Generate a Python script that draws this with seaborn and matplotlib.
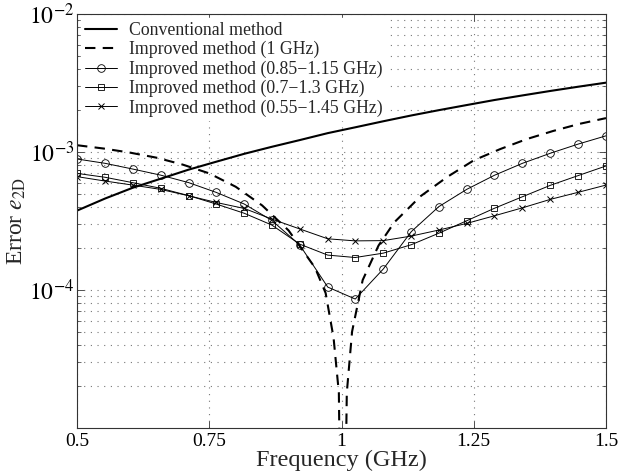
import matplotlib
matplotlib.use("Agg")
import matplotlib.pyplot as plt
import seaborn as sns
from matplotlib.ticker import LogLocator, NullFormatter

# marker positions (GHz)
freq = [0.5, 0.553, 0.605, 0.658, 0.711, 0.763, 0.816, 0.868, 0.921, 0.974,
        1.026, 1.079, 1.132, 1.184, 1.237, 1.289, 1.342, 1.395, 1.447, 1.5]

conventional = [3.76e-4, 4.6e-4, 5.5e-4, 6.4e-4, 7.45e-4, 8.5e-4, 9.7e-4, 1.09e-3, 1.22e-3, 1.37e-3,
                1.51e-3, 1.67e-3, 1.84e-3, 2.01e-3, 2.19e-3, 2.38e-3, 2.57e-3, 2.77e-3, 2.97e-3, 3.18e-3]

band_085_115 = [8.9e-4, 8.28e-4, 7.53e-4, 6.8e-4, 6.0e-4, 5.1e-4, 4.2e-4, 3.2e-4, 2.12e-4, 1.05e-4,
                8.6e-5, 1.42e-4, 2.65e-4, 4.02e-4, 5.37e-4, 6.78e-4, 8.28e-4, 9.8e-4, 1.14e-3, 1.31e-3]

band_07_13 = [7.0e-4, 6.56e-4, 6.0e-4, 5.46e-4, 4.83e-4, 4.2e-4, 3.6e-4, 2.96e-4, 2.15e-4, 1.79e-4,
              1.72e-4, 1.85e-4, 2.13e-4, 2.58e-4, 3.18e-4, 3.91e-4, 4.74e-4, 5.74e-4, 6.74e-4, 7.92e-4]

band_055_145 = [6.63e-4, 6.16e-4, 5.76e-4, 5.36e-4, 4.82e-4, 4.31e-4, 3.9e-4, 3.27e-4, 2.77e-4, 2.35e-4,
                2.27e-4, 2.28e-4, 2.46e-4, 2.72e-4, 3.04e-4, 3.45e-4, 3.94e-4, 4.54e-4, 5.1e-4, 5.76e-4]

# single-frequency design, sampled more densely around the 1 GHz null
freq_1ghz = [0.5, 0.55, 0.6, 0.65, 0.7, 0.75, 0.8, 0.85, 0.9, 0.95, 0.97, 0.985, 0.995, 1.002,
             1.01, 1.02, 1.04, 1.07, 1.1, 1.15, 1.2, 1.25, 1.3, 1.35, 1.4, 1.45, 1.5]
single_1ghz = [1.12e-3, 1.06e-3, 9.9e-4, 9.1e-4, 8.1e-4, 7.0e-4, 5.6e-4, 4.1e-4, 2.7e-4, 1.45e-4, 9.5e-5,
               4.5e-5, 1.8e-5, 1e-7, 1.8e-5, 5.0e-5, 1.18e-4, 2.1e-4, 3.1e-4, 4.8e-4, 6.6e-4, 8.7e-4,
               1.05e-3, 1.24e-3, 1.42e-3, 1.6e-3, 1.76e-3]

x_ticks = [0.5, 0.75, 1, 1.25, 1.5]
x_tick_labels = ["0.5", "0.75", "1", "1.25", "1.5"]

sns.set_style("ticks")
plt.rcParams.update({
    "font.family": ["Liberation Serif", "DejaVu Serif"],
    "mathtext.fontset": "stix",
    "xtick.direction": "in",
    "ytick.direction": "in",
    "xtick.top": True,
    "ytick.right": True,
    "axes.edgecolor": "#333333",
    "axes.linewidth": 0.8,
})

fig = plt.figure(figsize=(6.18, 4.76), dpi=100)
ax = fig.add_axes([0.1246, 0.1008, 0.856, 0.8698])
ax.set_yscale("log")

sns.lineplot(x=freq, y=conventional, ax=ax, color="black", lw=1.5, label="Conventional method")
sns.lineplot(x=freq_1ghz, y=single_1ghz, ax=ax, color="black", lw=1.5, linestyle=(0, (5, 3.5)),
             label="Improved method (1 GHz)")
sns.lineplot(x=freq, y=band_085_115, ax=ax, color="black", lw=0.7, marker="o", ms=5.5, mfc="none",
             mec="black", mew=0.6, label="Improved method (0.85\u22121.15 GHz)")
sns.lineplot(x=freq, y=band_07_13, ax=ax, color="black", lw=0.7, marker="s", ms=5, mfc="none",
             mec="black", mew=0.6, label="Improved method (0.7\u22121.3 GHz)")
sns.lineplot(x=freq, y=band_055_145, ax=ax, color="black", lw=0.7, marker="x", ms=4.5,
             mec="black", mew=0.7, label="Improved method (0.55\u22121.45 GHz)")

ax.set_xlim(0.5, 1.5)
ax.set_ylim(1e-5, 1e-2)
ax.set_xticks(x_ticks)
ax.set_xticklabels(x_tick_labels)
ax.set_yticks([1e-4, 1e-3, 1e-2])
ax.set_yticklabels([r"$10^{-4}$", r"$10^{-3}$", r"$10^{-2}$"])
ax.yaxis.set_minor_locator(LogLocator(base=10, subs=range(2, 10), numticks=20))
ax.yaxis.set_minor_formatter(NullFormatter())
ax.tick_params(which="major", length=5, width=0.6, labelsize=14, colors="#333333", labelcolor="black")
ax.tick_params(axis="y", which="major", labelsize=17, pad=2)
ax.tick_params(which="minor", length=3, width=0.5, colors="#333333")

grid_kw = dict(linestyle=(0, (1, 5)), color="#777777", lw=0.8)
ax.grid(True, which="major", axis="x", **grid_kw)
ax.grid(True, which="both", axis="y", **grid_kw)
ax.set_axisbelow(True)

ax.set_xlabel("Frequency (GHz)", fontsize=17.5, labelpad=0)
ax.set_ylabel(r"Error $e_{\mathrm{2D}}$", fontsize=17, labelpad=1)

leg = ax.legend(loc="upper left", fontsize=12.8, frameon=True, fancybox=False, edgecolor="white",
                framealpha=1, handlelength=1.8, labelspacing=0.12, borderaxespad=0.25,
                handletextpad=0.7, borderpad=0.2)
# let the curves run over the white legend box, as in the original
leg.set_zorder(1.5)

fig.savefig("out.png", dpi=100)
